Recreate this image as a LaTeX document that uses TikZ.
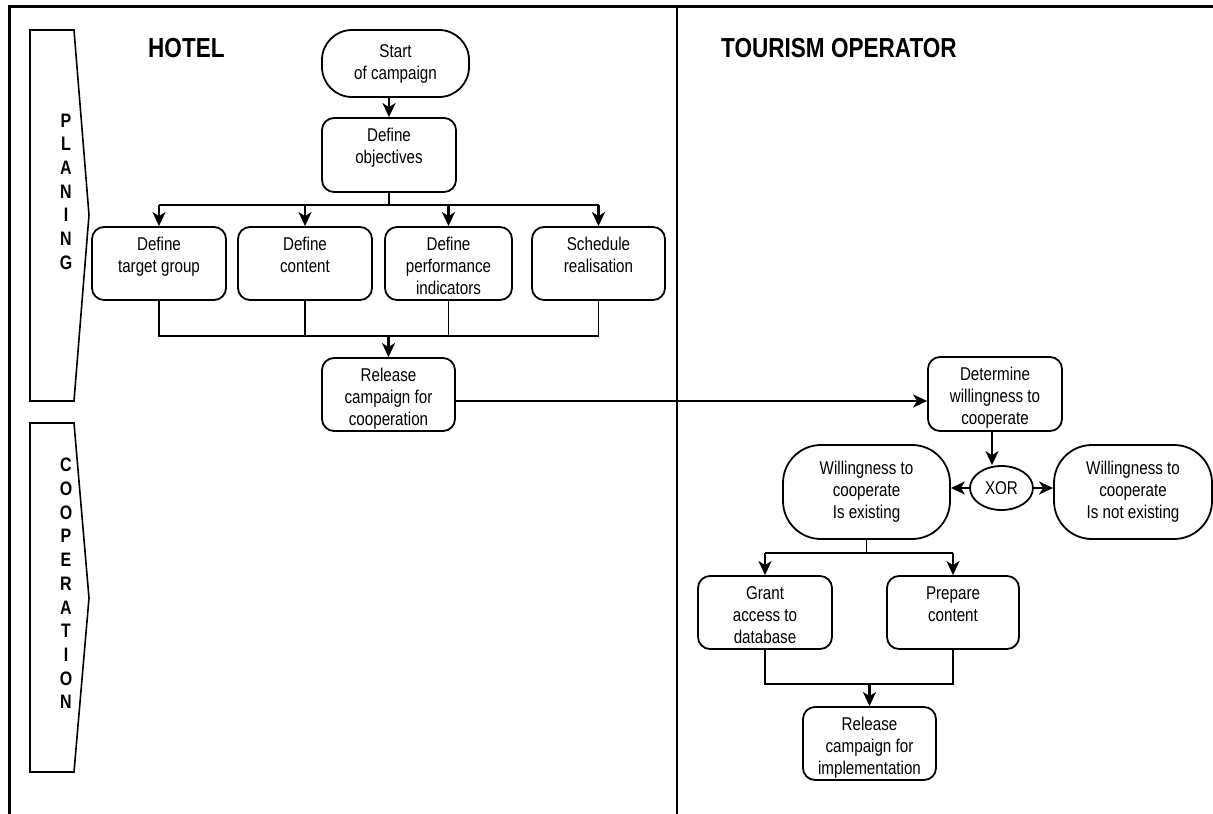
\documentclass[tikz,border=0pt]{standalone}
\usepackage{fontspec}
\setmainfont[FakeStretch=0.82]{Liberation Sans}
\usetikzlibrary{arrows.meta,shapes.geometric}
\newcommand{\bt}[3]{\parbox[c][#2][t]{#1}{\centering\rule{0pt}{23pt}#3}}
\begin{document}
\begin{tikzpicture}[x=1pt,y=-1pt,
  every node/.style={font=\fontsize{18.5}{22}\selectfont, inner sep=0pt},
  procbox/.style={draw, line width=1.8pt, rounded corners=12pt},
  term/.style={draw, line width=1.8pt, rounded corners=#1, align=center},
  gate/.style={draw, ellipse, line width=1.8pt, minimum width=63pt, minimum height=44pt},
  conn/.style={line width=1.7pt},
  arr/.style={line width=2.1pt, -{Stealth[length=14pt,width=13pt,inset=4pt]}},
  phase/.style={draw, line width=1.6pt},
  phasetext/.style={font=\fontsize{19.5}{23.7}\selectfont\bfseries, align=center},
  lane/.style={font=\fontsize{27.5}{30}\selectfont\bfseries, anchor=base west}
]
\useasboundingbox (0,0) rectangle (1213,814);
% frame
\draw[line width=3pt] (9,814) -- (9,6) -- (1213,6);
\draw[line width=2pt] (677,6) -- (677,814);
% phases
\draw[phase] (30,30) -- (74,30) -- (89,215) -- (74,401) -- (30,401) -- cycle;
\draw[phase] (30,423) -- (74,423) -- (89,598) -- (74,772) -- (30,772) -- cycle;
\node[phasetext] (ph1) at (66,191.5) {P\\L\\A\\N\\I\\N\\G};
\node[phasetext] (ph2) at (66,583.5) {C\\O\\O\\P\\E\\R\\A\\T\\I\\O\\N};
% lane titles
\node[lane] (hotel) at (148,57) {HOTEL};
\node[lane] (tour) at (721,57) {TOURISM OPERATOR};
% hotel nodes
\node[term=30pt, minimum width=147pt, minimum height=67pt] (start) at (395.5,63.5) {Start\\of campaign};
\node[procbox] (obj) at (389,155) {\bt{134pt}{74pt}{Define\\objectives}};
\node[procbox] (b1) at (159,263.5) {\bt{134pt}{73pt}{Define\\target group}};
\node[procbox] (b2) at (305,263.5) {\bt{134pt}{73pt}{Define\\content}};
\node[procbox] (b3) at (448.5,263.5) {\bt{127pt}{73pt}{Define\\performance\\indicators}};
\node[procbox] (b4) at (598.5,263.5) {\bt{133pt}{73pt}{Schedule\\realisation}};
\node[procbox] (rel) at (388.5,394.5) {\bt{133pt}{73pt}{Release\\campaign for\\cooperation}};
% operator nodes
\node[procbox] (det) at (995,394) {\bt{134pt}{74pt}{Determine\\willingness to\\cooperate}};
\node[gate] (xor) at (1001.5,488) {XOR};
\node[term=38pt, minimum width=167pt, minimum height=94pt] (ex) at (866.5,492) {Willingness to\\cooperate\\Is existing};
\node[term=38pt, minimum width=158pt, minimum height=94pt] (nex) at (1133,492) {Willingness to\\cooperate\\Is not existing};
\node[procbox] (grant) at (765,612.5) {\bt{134pt}{73pt}{Grant\\access to\\database}};
\node[procbox] (prep) at (953,612.5) {\bt{132pt}{73pt}{Prepare\\content}};
\node[procbox] (rel2) at (869.5,743.5) {\bt{133pt}{73pt}{Release\\campaign for\\implementation}};
% junction levels
\coordinate (jA) at (0,205);
\coordinate (jB) at (0,336);
\coordinate (jC) at (0,553);
\coordinate (jD) at (0,684);
\coordinate (jE) at (0,401);
\coordinate (jF) at (992,0);
% connectors
\draw[arr] (start.south -| obj.north) -- (obj.north);
\draw[conn] (obj.south) -- (obj.south |- jA);
\draw[conn] (b1.north |- jA) -- (b4.north |- jA);
\foreach \b in {b1,b2,b3,b4} {\draw[arr] (\b.north |- jA) -- (\b.north);}
\draw[conn] (b1.south) -- (b1.south |- jB) -- (b4.south |- jB) -- (b4.south);
\draw[conn] (b2.south) -- (b2.south |- jB);
\draw[conn] (b3.south) -- (b3.south |- jB);
\draw[arr] (rel.north |- jB) -- (rel.north);
\draw[arr] (rel.east |- jE) -- (det.west |- jE);
\draw[arr] (det.south -| jF) -- (xor.north -| jF);
\draw[arr] (xor.west) -- (xor.west -| ex.east);
\draw[arr] (xor.east) -- (xor.east -| nex.west);
\draw[conn] (ex.south) -- (ex.south |- jC);
\draw[conn] (grant.north |- jC) -- (prep.north |- jC);
\draw[arr] (grant.north |- jC) -- (grant.north);
\draw[arr] (prep.north |- jC) -- (prep.north);
\draw[conn] (grant.south) -- (grant.south |- jD) -- (prep.south |- jD) -- (prep.south);
\draw[arr] (rel2.north |- jD) -- (rel2.north);
\end{tikzpicture}
\end{document}
